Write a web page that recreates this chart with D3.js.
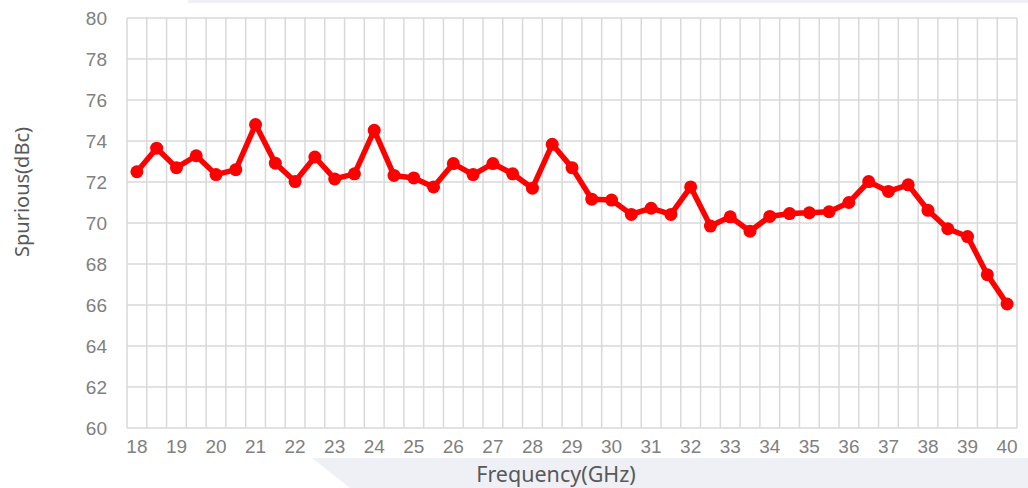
<!DOCTYPE html>
<html><head><meta charset="utf-8">
<script src="https://cdn.jsdelivr.net/npm/d3@7"></script>
<style>html,body{margin:0;padding:0;background:#fff;}svg{display:block;}</style>
</head><body>
<svg id="chart" width="1028" height="488"></svg>
<script>
const categories = ["18","18.5","19","19.5","20","20.5","21","21.5","22","22.5","23","23.5","24","24.5","25","25.5","26","26.5","27","27.5","28","28.5","29","29.5","30","30.5","31","31.5","32","32.5","33","33.5","34","34.5","35","35.5","36","36.5","37","37.5","38","38.5","39","39.5","40"];
const spurious = [72.5,73.65,72.7,73.28,72.36,72.6,74.8,72.92,72.02,73.22,72.15,72.4,74.52,72.32,72.2,71.76,72.9,72.36,72.9,72.4,71.7,73.84,72.7,71.16,71.12,70.42,70.72,70.42,71.76,69.85,70.3,69.6,70.32,70.46,70.5,70.55,71.0,72.02,71.54,71.86,70.62,69.72,69.34,67.48,66.05];
const xTickLabels = ["18","19","20","21","22","23","24","25","26","27","28","29","30","31","32","33","34","35","36","37","38","39","40"];
const yTicks = [60,62,64,66,68,70,72,74,76,78,80];

(function(){
const svg = d3.select("#chart");
const pLeft = 127, pRight = 1017, pTop = 18, pBottom = 428;

svg.append("rect").attr("x",188).attr("y",0).attr("width",840).attr("height",3).attr("fill","#eef0f5");
svg.append("polygon").attr("points","312,458 1028,458 1028,488 350,488").attr("fill","#eff0f5");

const x = d3.scaleBand().domain(categories).range([pLeft,pRight]).padding(0);
const y = d3.scaleLinear().domain([60,80]).range([pBottom,pTop]);

const grid = svg.append("g").attr("stroke","#d9d9d9").attr("stroke-width",1.5);
grid.selectAll("line.h").data(yTicks).join("line").attr("class","h")
  .attr("x1",pLeft).attr("x2",pRight).attr("y1",d=>y(d)).attr("y2",d=>y(d));
const vb = categories.map(c=>x(c)).concat([pRight]);
grid.selectAll("line.v").data(vb).join("line").attr("class","v")
  .attr("x1",d=>d).attr("x2",d=>d).attr("y1",pTop).attr("y2",pBottom);

const yAxis = d3.axisLeft(y).tickValues(yTicks).tickSize(0).tickPadding(20);
const gy = svg.append("g").attr("transform",`translate(${pLeft},0)`).call(yAxis);
gy.select(".domain").remove();
gy.selectAll("text").attr("font-family","'Liberation Sans', Arial, sans-serif").attr("font-size",19).attr("fill","#808080");

const xAxis = d3.axisBottom(x).tickValues(xTickLabels).tickSize(0).tickPadding(12);
const gx = svg.append("g").attr("transform",`translate(0,${pBottom})`).call(xAxis);
gx.select(".domain").remove();
gx.selectAll("text").attr("font-family","'Liberation Sans', Arial, sans-serif").attr("font-size",19).attr("fill","#808080");

const cx = d => x(d) + x.bandwidth()/2;
const pts = categories.map((c,i)=>({c, v: spurious[i]}));

svg.append("path").datum(pts)
  .attr("fill","none").attr("stroke","#ff0000").attr("stroke-width",5.5).attr("stroke-linejoin","round")
  .attr("d", d3.line().x(d=>cx(d.c)).y(d=>y(d.v)));
svg.append("g").selectAll("circle").data(pts).join("circle")
  .attr("cx",d=>cx(d.c)).attr("cy",d=>y(d.v)).attr("r",6.5).attr("fill","#ff0000");

svg.append("text").attr("x",556).attr("y",482).attr("text-anchor","middle")
  .attr("font-family","'Noto Sans', sans-serif").attr("font-size",21.5).attr("fill","#595959")
  .text("Frequency(GHz)");
svg.append("text").attr("transform","translate(29,192) rotate(-90)").attr("text-anchor","middle")
  .attr("font-family","'Noto Sans', sans-serif").attr("font-size",20).attr("fill","#595959")
  .text("Spurious(dBc)");
})();
</script>
</body></html>
